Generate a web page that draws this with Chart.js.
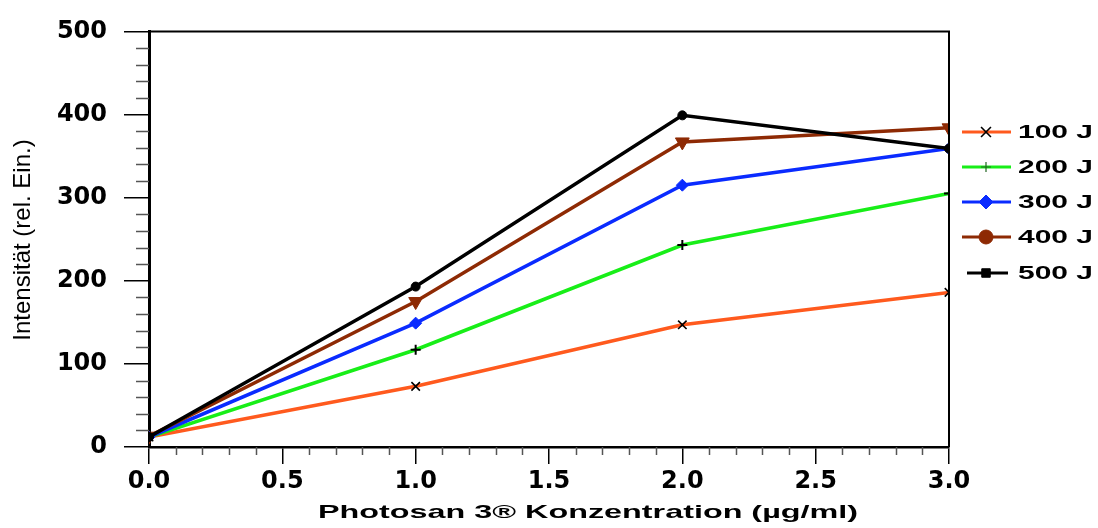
<!DOCTYPE html>
<html><head><meta charset="utf-8">
<script src="https://cdn.jsdelivr.net/npm/chart.js@4.4.1/dist/chart.umd.min.js"></script>
<style>html,body{margin:0;padding:0;background:#fff;overflow:hidden}#wrap{width:1098px;height:528px;position:relative}</style>
</head><body><div id="wrap"><canvas id="c"></canvas></div>
<script>
// ---- data ----
const concentrations = [0, 1, 2, 3];
const seriesNames = ['100 J', '200 J', '300 J', '400 J', '500 J'];
const values100 = [12, 73, 147, 186];
const values200 = [12, 117, 243, 305];
const values300 = [12, 149, 315, 359];
const values400 = [13, 175, 367, 384];
const values500 = [12, 193, 399, 359];
const xTickValues = [0, 0.5, 1, 1.5, 2, 2.5, 3];
const yTickValues = [0, 100, 200, 300, 400, 500];
const xTitle = 'Photosan 3\u00AE Konzentration (\u00B5g/ml)';
const yTitle = 'Intensit\u00E4t (rel. Ein.)';

const seriesValues = [values100, values200, values300, values400, values500];
const lineColors = ['#FF5A1E', '#18EE18', '#0A2BFF', '#8E2A04', '#000000'];
const plotMarkers = [
  {style: 'crossRot', r: 6, fill: '#000', stroke: '#000', rot: 0, bw: 1.6},
  {style: 'cross', r: 5, fill: '#000', stroke: '#000', rot: 0, bw: 2},
  {style: 'rectRot', r: 6, fill: '#0A2BFF', stroke: '#0A2BFF', rot: 0, bw: 1},
  {style: 'triangle', r: 8, fill: '#8E2A04', stroke: '#8E2A04', rot: 180, bw: 1},
  {style: 'circle', r: 4.5, fill: '#000', stroke: '#000', rot: 0, bw: 1}
];
const legendMarkers = [
  {style: 'crossRot', r: 7, fill: '#000', stroke: '#000', bw: 1.6},
  {style: 'cross', r: 5, fill: '#226622', stroke: '#226622', bw: 1.2},
  {style: 'rectRot', r: 7, fill: '#0A2BFF', stroke: '#0A2BFF', bw: 1},
  {style: 'circle', r: 7, fill: '#8E2A04', stroke: '#8E2A04', bw: 1},
  {style: 'rect', r: 6, fill: '#000', stroke: '#000', bw: 1}
];

const datasets = seriesNames.map((name, i) => ({
  label: name,
  data: concentrations.map((c, j) => ({x: c, y: seriesValues[i][j]})),
  borderColor: lineColors[i],
  backgroundColor: lineColors[i],
  borderWidth: 3.5,
  tension: 0,
  pointStyle: plotMarkers[i].style,
  pointRadius: plotMarkers[i].r,
  pointRotation: plotMarkers[i].rot,
  pointBackgroundColor: plotMarkers[i].fill,
  pointBorderColor: plotMarkers[i].stroke,
  pointBorderWidth: plotMarkers[i].bw,
  order: 4 - i
}));

const decorPlugin = {
  id: 'decor',
  afterDraw(chart) {
    const ctx = chart.ctx;
    const a = chart.chartArea;
    const xs = chart.scales.x, ys = chart.scales.y;
    ctx.save();
    // frame top/right
    ctx.strokeStyle = '#000';
    ctx.lineWidth = 2;
    ctx.beginPath();
    ctx.moveTo(a.left, a.top); ctx.lineTo(a.right, a.top); ctx.lineTo(a.right, a.bottom);
    ctx.stroke();
    // minor ticks
    ctx.strokeStyle = '#555';
    ctx.lineWidth = 1.5;
    ctx.beginPath();
    for (let v = 20; v < 500; v += 20) {
      if (v % 100 === 0) continue;
      const y = Math.round(ys.getPixelForValue(v)) + 0.5;
      ctx.moveTo(a.left - 13, y); ctx.lineTo(a.left, y);
    }
    for (let k = 1; k < 30; k++) {
      if (k % 5 === 0) continue;
      const x = Math.round(xs.getPixelForValue(k / 10)) + 0.5;
      ctx.moveTo(x, a.bottom); ctx.lineTo(x, a.bottom + 8);
    }
    ctx.stroke();
    // x title (horizontally stretched like reference)
    ctx.fillStyle = '#000';
    ctx.font = 'bold 19px "Liberation Sans", Arial, sans-serif';
    ctx.textBaseline = 'middle';
    ctx.textAlign = 'center';
    let w = ctx.measureText(xTitle).width;
    ctx.save();
    ctx.translate(588, 513);
    ctx.scale(540 / w, 1);
    ctx.fillText(xTitle, 0, 0);
    ctx.restore();
    // y title
    ctx.font = '24px "Liberation Sans", Arial, sans-serif';
    ctx.save();
    ctx.translate(23, 240);
    ctx.rotate(-Math.PI / 2);
    ctx.fillText(yTitle, 0, 0);
    ctx.restore();
    // legend
    const rowsY = [132, 167, 202, 237, 273];
    ctx.font = 'bold 18px "Liberation Sans", Arial, sans-serif';
    const sx = 75 / ctx.measureText('100 J').width;
    seriesNames.forEach((name, i) => {
      const y = rowsY[i];
      ctx.strokeStyle = lineColors[i];
      ctx.lineWidth = 3;
      ctx.beginPath();
      const x0 = i === 4 ? 967 : 962, x1 = i === 4 ? 1008 : 1011;
      ctx.moveTo(x0, y); ctx.lineTo(x1, y); ctx.stroke();
      const m = legendMarkers[i];
      ctx.fillStyle = m.fill; ctx.strokeStyle = m.stroke; ctx.lineWidth = m.bw;
      ctx.beginPath();
      Chart.helpers.drawPoint(ctx, {pointStyle: m.style, radius: m.r, rotation: 0, borderWidth: m.bw}, 986, y);
      ctx.fillStyle = '#000';
      ctx.textAlign = 'left';
      ctx.save();
      ctx.translate(1018, y + 1);
      ctx.scale(sx, 1);
      ctx.fillText(name, 0, 0);
      ctx.restore();
    });
    ctx.restore();
  }
};

new Chart(document.getElementById('c'), {
  type: 'line',
  data: {datasets},
  options: {
    responsive: true,
    maintainAspectRatio: false,
    animation: false,
    layout: {padding: {left: 0, top: 29, right: 149, bottom: 0}},
    plugins: {legend: {display: false}, tooltip: {enabled: false}},
    scales: {
      x: {
        type: 'linear', min: 0, max: 3,
        afterBuildTicks: s => { s.ticks = xTickValues.map(v => ({value: v})); },
        afterFit: s => { s.height = 81; },
        ticks: {
          callback: v => Number(v).toFixed(1),
          color: '#000', padding: 3, maxRotation: 0,
          font: {family: '"DejaVu Sans", sans-serif', weight: 'bold', size: 24}
        },
        grid: {display: true, drawOnChartArea: false, drawTicks: true, tickLength: 17, color: '#000', lineWidth: 1.5},
        border: {display: true, color: '#000', width: 2.5}
      },
      y: {
        type: 'linear', min: 0, max: 500,
        afterBuildTicks: s => { s.ticks = yTickValues.map(v => ({value: v})); },
        afterFit: s => { s.width = 149; },
        ticks: {
          color: '#000', padding: 17,
          font: {family: '"DejaVu Sans", sans-serif', weight: 'bold', size: 24}
        },
        grid: {display: true, drawOnChartArea: false, drawTicks: true, tickLength: 25, color: '#000', lineWidth: 1.5},
        border: {display: true, color: '#000', width: 3}
      }
    }
  },
  plugins: [decorPlugin]
});
</script>
</body></html>
